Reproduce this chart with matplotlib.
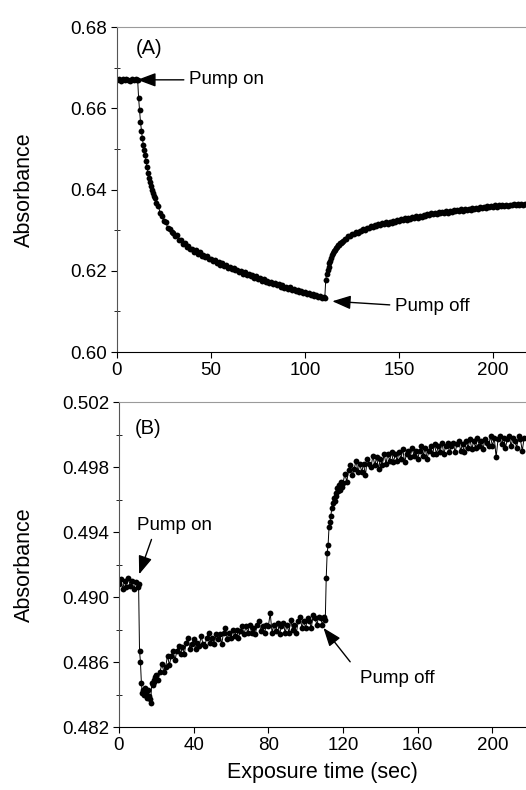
import numpy as np
import matplotlib
matplotlib.use("Agg")
import matplotlib.pyplot as plt

plt.rcParams['font.family'] = ['Liberation Sans', 'DejaVu Sans']

# sampling times (sec): 1 s steps, 0.5 s around the pump on / pump off steps
time_sec = np.concatenate([np.arange(0, 11), np.arange(10.5, 20, 0.5),
                           np.arange(20, 111), np.arange(110.5, 120, 0.5),
                           np.arange(120, 218)])

absorbance_a = [
    # 0-10
    0.6670, 0.6672, 0.6668, 0.6671, 0.6669, 0.6672, 0.6670, 0.6668, 0.6671, 0.6669, 0.6672,
    # 10.5-19.5
    0.6670, 0.6669, 0.6625, 0.6595, 0.6566, 0.6545, 0.6526, 0.6510, 0.6497, 0.6484,
    0.6470, 0.6455, 0.6440, 0.6428, 0.6418, 0.6409, 0.6400, 0.6391, 0.6383,
    # 20-110
    0.6379, 0.6367, 0.6359, 0.6342, 0.6334, 0.6322, 0.6319, 0.6306, 0.6304, 0.6295,
    0.6294, 0.6285, 0.6289, 0.6275, 0.6276, 0.6266, 0.6268, 0.6259, 0.6261, 0.6253,
    0.6254, 0.6247, 0.6251, 0.6242, 0.6246, 0.6236, 0.6239, 0.6233, 0.6236, 0.6229,
    0.6230, 0.6224, 0.6226, 0.6219, 0.6222, 0.6215, 0.6218, 0.6212, 0.6215, 0.6208,
    0.6210, 0.6204, 0.6207, 0.6201, 0.6203, 0.6196, 0.6199, 0.6192, 0.6196, 0.6189,
    0.6191, 0.6186, 0.6189, 0.6183, 0.6186, 0.6179, 0.6182, 0.6176, 0.6179, 0.6173,
    0.6176, 0.6170, 0.6173, 0.6167, 0.6170, 0.6164, 0.6167, 0.6161, 0.6164, 0.6158,
    0.6161, 0.6156, 0.6159, 0.6153, 0.6156, 0.6150, 0.6153, 0.6147, 0.6151, 0.6145,
    0.6148, 0.6143, 0.6146, 0.6140, 0.6144, 0.6138, 0.6141, 0.6135, 0.6139, 0.6133, 0.6136,
    # 110.5-119.5
    0.6133, 0.6177, 0.6193, 0.6203, 0.6210, 0.6218, 0.6225, 0.6232, 0.6238, 0.6244,
    0.6249, 0.6252, 0.6257, 0.6259, 0.6263, 0.6264, 0.6268, 0.6268, 0.6272,
    # 120-217
    0.6273, 0.6279, 0.6279, 0.6285, 0.6285, 0.6291, 0.6290, 0.6295, 0.6294, 0.6299,
    0.6298, 0.6303, 0.6301, 0.6306, 0.6305, 0.6310, 0.6307, 0.6313, 0.6310, 0.6315,
    0.6312, 0.6317, 0.6314, 0.6319, 0.6316, 0.6321, 0.6318, 0.6323, 0.6320, 0.6325,
    0.6322, 0.6327, 0.6324, 0.6329, 0.6326, 0.6330, 0.6328, 0.6332, 0.6330, 0.6334,
    0.6331, 0.6336, 0.6333, 0.6338, 0.6335, 0.6339, 0.6338, 0.6342, 0.6339, 0.6343,
    0.6340, 0.6344, 0.6341, 0.6345, 0.6342, 0.6346, 0.6343, 0.6347, 0.6345, 0.6349,
    0.6346, 0.6350, 0.6347, 0.6351, 0.6348, 0.6352, 0.6349, 0.6353, 0.6350, 0.6354,
    0.6352, 0.6355, 0.6353, 0.6357, 0.6354, 0.6358, 0.6355, 0.6359, 0.6356, 0.6360,
    0.6357, 0.6361, 0.6358, 0.6361, 0.6359, 0.6362, 0.6359, 0.6363, 0.6360, 0.6363,
    0.6361, 0.6364, 0.6361, 0.6364, 0.6362, 0.6365, 0.6362, 0.6365,
]

absorbance_b = [
    # 0-10
    0.4908, 0.4911, 0.4905, 0.4910, 0.4906, 0.4912, 0.4907, 0.4910, 0.4905, 0.4909, 0.4906,
    # 10.5-19.5
    0.4908, 0.4867, 0.4860, 0.4847, 0.4841, 0.4843, 0.4840, 0.4844, 0.4841, 0.4838,
    0.4843, 0.4839, 0.4837, 0.4835, 0.4847, 0.4846, 0.4849, 0.4848, 0.4851,
    # 20-110
    0.4852, 0.4849, 0.4854, 0.4859, 0.4854, 0.4857, 0.4864, 0.4858, 0.4864, 0.4867,
    0.4861, 0.4867, 0.4870, 0.4865, 0.4869, 0.4865, 0.4872, 0.4875, 0.4868, 0.4871,
    0.4874, 0.4868, 0.4872, 0.4870, 0.4876, 0.4871, 0.4870, 0.4875, 0.4878, 0.4872,
    0.4875, 0.4871, 0.4877, 0.4874, 0.4877, 0.4871, 0.4878, 0.4881, 0.4874, 0.4878,
    0.4875, 0.4880, 0.4876, 0.4880, 0.4875, 0.4879, 0.4882, 0.4877, 0.4882, 0.4878,
    0.4883, 0.4878, 0.4881, 0.4877, 0.4883, 0.4885, 0.4879, 0.4882, 0.4878, 0.4883,
    0.4882, 0.4890, 0.4878, 0.4883, 0.4879, 0.4884, 0.4877, 0.4882, 0.4884, 0.4878,
    0.4883, 0.4878, 0.4886, 0.4880, 0.4883, 0.4878, 0.4885, 0.4888, 0.4881, 0.4885,
    0.4881, 0.4887, 0.4885, 0.4881, 0.4889, 0.4887, 0.4883, 0.4888, 0.4887, 0.4883, 0.4888,
    # 110.5-119.5
    0.4886, 0.4912, 0.4927, 0.4932, 0.4943, 0.4946, 0.4950, 0.4955, 0.4958, 0.4961,
    0.4959, 0.4964, 0.4962, 0.4967, 0.4965, 0.4969, 0.4966, 0.4971, 0.4968,
    # 120-217
    0.4970, 0.4976, 0.4971, 0.4978, 0.4981, 0.4975, 0.4979, 0.4984, 0.4977, 0.4982,
    0.4977, 0.4982, 0.4975, 0.4985, 0.4982, 0.4980, 0.4987, 0.4981, 0.4986, 0.4979,
    0.4985, 0.4981, 0.4988, 0.4982, 0.4988, 0.4984, 0.4989, 0.4983, 0.4988, 0.4984,
    0.4989, 0.4985, 0.4991, 0.4983, 0.4988, 0.4990, 0.4986, 0.4992, 0.4987, 0.4990,
    0.4985, 0.4990, 0.4993, 0.4987, 0.4992, 0.4985, 0.4990, 0.4993, 0.4988, 0.4994,
    0.4988, 0.4993, 0.4989, 0.4995, 0.4988, 0.4993, 0.4995, 0.4989, 0.4993, 0.4995,
    0.4989, 0.4994, 0.4996, 0.4990, 0.4994, 0.4989, 0.4996, 0.4992, 0.4997, 0.4991,
    0.4996, 0.4992, 0.4998, 0.4993, 0.4996, 0.4991, 0.4997, 0.4995, 0.4993, 0.4999,
    0.4993, 0.4998, 0.4986, 0.4997, 0.4999, 0.4994, 0.4998, 0.4992, 0.4997, 0.4999,
    0.4993, 0.4998, 0.4996, 0.4992, 0.4999, 0.4997, 0.4990, 0.4998,
]

yticks_a = [0.60, 0.62, 0.64, 0.66, 0.68]
xticks_a = [0, 50, 100, 150, 200]
yticks_b = [0.482, 0.486, 0.490, 0.494, 0.498, 0.502]
xticks_b = [0, 40, 80, 120, 160, 200]

fig = plt.figure(figsize=(5.26, 7.90), dpi=100)
ax_a = fig.add_axes([0.2224, 0.5544, 0.7776, 0.4114])
ax_b = fig.add_axes([0.2262, 0.0797, 0.7738, 0.4114])

arrow = dict(arrowstyle='-|>,head_length=0.75,head_width=0.28', color='black',
             lw=1.0, mutation_scale=15, shrinkB=0)


def style(ax, values, xticks, yticks, ylim, xmax, minor_step):
    ax.plot(time_sec, values, '-o', color='black', lw=0.7, ms=4.2,
            markeredgewidth=0)
    ax.set_xlim(0, xmax)
    ax.set_ylim(*ylim)
    ax.set_xticks(xticks)
    ax.set_yticks(yticks)
    ax.set_yticks(np.arange(ylim[0], ylim[1] + 1e-9, minor_step), minor=True)
    ax.tick_params(axis='both', which='major', direction='out', length=4,
                   width=0.8, labelsize=13.5, pad=3)
    ax.tick_params(axis='y', which='minor', direction='inout', length=4, width=0.6)
    ax.spines['right'].set_visible(False)
    ax.spines['top'].set_color('#9a9a9a')
    ax.spines['left'].set_color('#555555')
    ax.spines['left'].set_linewidth(0.8)
    ax.spines['bottom'].set_linewidth(0.8)
    ax.set_ylabel('Absorbance', fontsize=15.5)


style(ax_a, absorbance_a, xticks_a, yticks_a, (0.60, 0.68), 217.5, 0.01)
ax_a.yaxis.set_major_formatter(matplotlib.ticker.FormatStrFormatter('%.2f'))
ax_a.yaxis.set_label_coords(-0.200, 0.5)

ax_a.text(10, 0.6748, '(A)', fontsize=14.5, ha='left', va='center')
ax_a.annotate('Pump on', xy=(10.8, 0.667), xytext=(38.5, 0.667),
              fontsize=13.5, ha='left', va='center', arrowprops=arrow)
ax_a.annotate('Pump off', xy=(114.5, 0.6125), xytext=(148, 0.6111),
              fontsize=13.5, ha='left', va='center',
              arrowprops=dict(arrow, relpos=(0, 0.6)))

style(ax_b, absorbance_b, xticks_b, yticks_b, (0.482, 0.502), 218, 0.002)
ax_b.yaxis.set_major_formatter(matplotlib.ticker.FormatStrFormatter('%.3f'))
ax_b.yaxis.set_label_coords(-0.206, 0.5)
ax_b.set_xlabel('Exposure time (sec)', fontsize=15.5, labelpad=6)

ax_b.text(8.6, 0.5004, '(B)', fontsize=14.5, ha='left', va='center')
ax_b.annotate('Pump on', xy=(10.8, 0.4914), xytext=(9.6, 0.4944),
              fontsize=13.5, ha='left', va='center',
              arrowprops=dict(arrow, relpos=(0.22, 0.0)))
ax_b.annotate('Pump off', xy=(109.5, 0.4881), xytext=(129, 0.4850),
              fontsize=13.5, ha='left', va='center',
              arrowprops=dict(arrow, relpos=(0.0, 0.75), shrinkA=8))

fig.savefig('out.png', dpi=100)
